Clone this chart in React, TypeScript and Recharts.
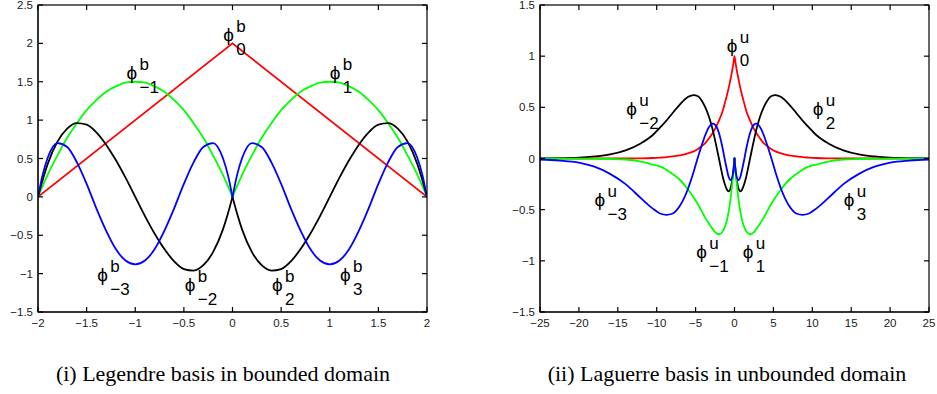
import { LineChart, Line, XAxis, YAxis, ReferenceDot } from 'recharts'

// ---- Legendre basis on the bounded domain [-2, 2] ----
const legXl = [-2, -1.95, -1.9, -1.8, -1.7, -1.6, -1.5, -1.4, -1.3, -1.2, -1.1, -1, -0.9, -0.8, -0.7, -0.6, -0.5, -0.4, -0.3, -0.2, -0.1, -0.05, 0]
const legXr = [0, 0.05, 0.1, 0.2, 0.3, 0.4, 0.5, 0.6, 0.7, 0.8, 0.9, 1, 1.1, 1.2, 1.3, 1.4, 1.5, 1.6, 1.7, 1.8, 1.9, 1.95, 2]
const legHatX = [-2, 0, 2]

const phiB0 = [0, 2, 0]
const phiBm1 = [0, 0.15, 0.29, 0.54, 0.77, 0.96, 1.13, 1.26, 1.37, 1.44, 1.49, 1.5, 1.49, 1.44, 1.37, 1.26, 1.13, 0.96, 0.77, 0.54, 0.29, 0.15, 0]
const phiB1 = [0, 0.15, 0.29, 0.54, 0.77, 0.96, 1.13, 1.26, 1.37, 1.44, 1.49, 1.5, 1.49, 1.44, 1.37, 1.26, 1.13, 0.96, 0.77, 0.54, 0.29, 0.15, 0]
const phiBm2 = [0, 0.23, 0.43, 0.72, 0.89, 0.96, 0.94, 0.84, 0.68, 0.48, 0.25, 0, -0.25, -0.48, -0.68, -0.84, -0.94, -0.96, -0.89, -0.72, -0.43, -0.23, 0]
const phiB2 = [0, -0.23, -0.43, -0.72, -0.89, -0.96, -0.94, -0.84, -0.68, -0.48, -0.25, 0, 0.25, 0.48, 0.68, 0.84, 0.94, 0.96, 0.89, 0.72, 0.43, 0.23, 0]
const phiBm3 = [0, 0.3, 0.51, 0.7, 0.65, 0.45, 0.17, -0.15, -0.44, -0.68, -0.83, -0.88, -0.83, -0.68, -0.44, -0.15, 0.17, 0.45, 0.65, 0.7, 0.51, 0.3, 0]
const phiB3 = [0, 0.3, 0.51, 0.7, 0.65, 0.45, 0.17, -0.15, -0.44, -0.68, -0.83, -0.88, -0.83, -0.68, -0.44, -0.15, 0.17, 0.45, 0.65, 0.7, 0.51, 0.3, 0]

const legTicksX = [-2, -1.5, -1, -0.5, 0, 0.5, 1, 1.5, 2]
const legTicksY = [-1.5, -1, -0.5, 0, 0.5, 1, 1.5, 2, 2.5]

// ---- Laguerre basis on the unbounded domain ----
const lagXl = [-25, -22.5, -20, -18, -16, -14, -12, -10.5, -9.5, -8.75, -8, -7, -6, -5.25, -4.75, -4.25, -3.75, -3.25, -2.8, -2.5, -2, -1.5, -1.25, -1, -0.75, -0.5, -0.25, -0.1, 0]
const lagXr = [0, 0.1, 0.25, 0.5, 0.75, 1, 1.25, 1.5, 2, 2.5, 2.8, 3.25, 3.75, 4.25, 4.75, 5.25, 6, 7, 8, 8.75, 9.5, 10.5, 12, 14, 16, 18, 20, 22.5, 25]

const phiU0l = [0, 0, 0, 0, 0, 0.001, 0.002, 0.005, 0.009, 0.013, 0.02, 0.03, 0.05, 0.07, 0.09, 0.12, 0.15, 0.2, 0.25, 0.29, 0.37, 0.47, 0.54, 0.61, 0.69, 0.78, 0.88, 0.95, 1]
const phiU0r = [1, 0.95, 0.88, 0.78, 0.69, 0.61, 0.54, 0.47, 0.37, 0.29, 0.25, 0.2, 0.15, 0.12, 0.09, 0.07, 0.05, 0.03, 0.02, 0.013, 0.009, 0.005, 0.002, 0.001, 0, 0, 0, 0, 0]
const phiUm1 = [0, 0, -0.001, -0.002, -0.005, -0.01, -0.03, -0.06, -0.08, -0.11, -0.15, -0.21, -0.3, -0.38, -0.44, -0.51, -0.58, -0.64, -0.69, -0.72, -0.74, -0.71, -0.67, -0.61, -0.52, -0.39, -0.22, -0.1, 0]
const phiU1 = [0, -0.1, -0.22, -0.39, -0.52, -0.61, -0.67, -0.71, -0.74, -0.72, -0.69, -0.64, -0.58, -0.51, -0.44, -0.38, -0.3, -0.21, -0.15, -0.11, -0.08, -0.06, -0.03, -0.01, -0.005, -0.002, -0.001, 0, 0]
const phiUm2 = [0.001, 0.003, 0.008, 0.02, 0.04, 0.08, 0.15, 0.23, 0.31, 0.37, 0.44, 0.53, 0.6, 0.62, 0.61, 0.57, 0.5, 0.4, 0.28, 0.18, 0, -0.18, -0.25, -0.3, -0.32, -0.29, -0.19, -0.09, 0]
const phiU2 = [0, -0.09, -0.19, -0.29, -0.32, -0.3, -0.25, -0.18, 0, 0.18, 0.28, 0.4, 0.5, 0.57, 0.61, 0.62, 0.6, 0.53, 0.44, 0.37, 0.31, 0.23, 0.15, 0.08, 0.04, 0.02, 0.008, 0.003, 0.001]
const phiUm3 = [-0.01, -0.02, -0.04, -0.08, -0.15, -0.25, -0.39, -0.49, -0.54, -0.55, -0.54, -0.46, -0.3, -0.13, 0, 0.12, 0.23, 0.31, 0.34, 0.33, 0.25, 0.09, -0.01, -0.1, -0.18, -0.21, -0.17, -0.09, 0]
const phiU3 = [0, -0.09, -0.17, -0.21, -0.18, -0.1, -0.01, 0.09, 0.25, 0.33, 0.34, 0.31, 0.23, 0.12, 0, -0.13, -0.3, -0.46, -0.54, -0.55, -0.54, -0.49, -0.39, -0.25, -0.15, -0.08, -0.04, -0.02, -0.01]

const lagTicksX = [-25, -20, -15, -10, -5, 0, 5, 10, 15, 20, 25]
const lagTicksY = [-1.5, -1, -0.5, 0, 0.5, 1, 1.5]

// curve labels: anchor = left edge / baseline of the phi
const legLabels = [
  { sub: '0', x: -0.095, y: 2.035 },
  { sub: '\u22121', x: -1.09, y: 1.535 },
  { sub: '1', x: 1.0, y: 1.535 },
  { sub: '\u22123', x: -1.39, y: -1.1 },
  { sub: '\u22122', x: -0.49, y: -1.23 },
  { sub: '2', x: 0.405, y: -1.23 },
  { sub: '3', x: 1.106, y: -1.1 },
]
const lagLabels = [
  { sub: '0', x: -0.99, y: 1.04 },
  { sub: '\u22122', x: -13.9, y: 0.425 },
  { sub: '2', x: 10.06, y: 0.425 },
  { sub: '\u22123', x: -17.98, y: -0.467 },
  { sub: '3', x: 14.04, y: -0.467 },
  { sub: '\u22121', x: -4.92, y: -0.97 },
  { sub: '1', x: 1.07, y: -0.97 },
]

const RED = '#ff0000'
const GREEN = '#00ff00'
const BLUE = '#0000ff'
const BLACK = '#000000'

const pts = (xs: number[], ys: number[]) => xs.map((x, i) => ({ x, y: ys[i] }))
const fmt = (v: number) => String(v).replace('-', '\u2212')

const tickFont = { fontFamily: '"Liberation Sans", Arial, sans-serif', fontSize: 11.5, fill: '#1a1a1a' }
const labelFont = '"Liberation Sans", "DejaVu Sans", Arial, sans-serif'
const TICK = 5

// plot rectangles in page pixels (chart margins + axis sizes below produce these)
interface Box { left: number; top: number; right: number; bottom: number; xd: number[]; yd: number[]; xt: number[]; yt: number[] }
const legBox: Box = { left: 38, top: 5, right: 427, bottom: 312, xd: [-2, 2], yd: [-1.5, 2.5], xt: legTicksX, yt: legTicksY }
const lagBox: Box = { left: 540, top: 5, right: 929, bottom: 312, xd: [-25, 25], yd: [-1.5, 1.5], xt: lagTicksX, yt: lagTicksY }

function PhiMark({ cx, cy, sup, sub }: any) {
  return (
    <g fontFamily={labelFont} fill="#000">
      <text x={cx} y={cy} fontSize={19}>{'\u03d5'}</text>
      <text x={cx + 13} y={cy - 9} fontSize={17}>{sup}</text>
      <text x={cx + 13} y={cy + 14} fontSize={17}>{sub}</text>
    </g>
  )
}

// MATLAB-style closed box with inward ticks on all four sides
function BoxFrame({ b }: { b: Box }) {
  const px = (v: number) => b.left + ((v - b.xd[0]) / (b.xd[1] - b.xd[0])) * (b.right - b.left)
  const py = (v: number) => b.bottom - ((v - b.yd[0]) / (b.yd[1] - b.yd[0])) * (b.bottom - b.top)
  return (
    <g stroke="#000" strokeWidth={1.2} fill="none">
      <rect x={b.left} y={b.top} width={b.right - b.left} height={b.bottom - b.top} />
      {b.xt.map((t) => (
        <g key={'x' + t}>
          <line x1={px(t)} x2={px(t)} y1={b.top} y2={b.top + TICK} />
          <line x1={px(t)} x2={px(t)} y1={b.bottom - TICK} y2={b.bottom} />
        </g>
      ))}
      {b.yt.map((t) => (
        <g key={'y' + t}>
          <line x1={b.left} x2={b.left + TICK} y1={py(t)} y2={py(t)} />
          <line x1={b.right - TICK} x2={b.right} y1={py(t)} y2={py(t)} />
        </g>
      ))}
    </g>
  )
}

function axes(xDomain: number[], xTicks: number[], yDomain: number[], yTicks: number[], yWidth: number) {
  const line = { stroke: '#000', strokeWidth: 1 }
  return [
    <XAxis key="xb" type="number" dataKey="x" domain={xDomain} ticks={xTicks} interval={0} allowDataOverflow
      tickLine={false} tickSize={0} tickMargin={7} tickFormatter={fmt} tick={tickFont} axisLine={line} height={28} />,
    <YAxis key="yl" type="number" domain={yDomain} ticks={yTicks} interval={0} allowDataOverflow
      tickLine={false} tickSize={0} tickMargin={5} tickFormatter={fmt} tick={tickFont} axisLine={line} width={yWidth} />,
  ]
}

function curve(key: string, data: { x: number; y: number }[], color: string, kind: 'monotone' | 'linear' = 'monotone') {
  return (
    <Line key={key} data={data} dataKey="y" type={kind} stroke={color} strokeWidth={1.8} strokeLinecap="round"
      dot={false} activeDot={false} isAnimationActive={false} />
  )
}

function labels(list: { sub: string; x: number; y: number }[], sup: string) {
  return list.map((l) => (
    <ReferenceDot key={'l' + l.sub + l.x} x={l.x} y={l.y} r={1} ifOverflow="visible"
      shape={(p: any) => <PhiMark cx={p.cx} cy={p.cy} sup={sup} sub={l.sub} />} />
  ))
}

const caption: React.CSSProperties = {
  position: 'absolute',
  top: 363,
  fontFamily: '"Liberation Serif", "Times New Roman", serif',
  fontSize: 22,
  lineHeight: '22px',
  textAlign: 'center',
  color: '#000',
  whiteSpace: 'nowrap',
}

export default function App() {
  return (
    <div style={{ position: 'absolute', left: 0, top: 0, width: 937, height: 394, background: '#fff', overflow: 'hidden' }}>
      <div style={{ position: 'absolute', left: 0, top: 0 }}>
        <LineChart width={440} height={340} margin={{ top: 5, right: 13, bottom: 0, left: 0 }}>
          {axes(legBox.xd, legTicksX, legBox.yd, legTicksY, 38)}
          {curve('b0', pts(legHatX, phiB0), RED, 'linear')}
          {curve('bm1', pts(legXl, phiBm1), GREEN)}
          {curve('b1', pts(legXr, phiB1), GREEN)}
          {curve('bm2', pts(legXl, phiBm2), BLACK)}
          {curve('b2', pts(legXr, phiB2), BLACK)}
          {curve('bm3', pts(legXl, phiBm3), BLUE)}
          {curve('b3', pts(legXr, phiB3), BLUE)}
          {labels(legLabels, 'b')}
        </LineChart>
      </div>
      <div style={{ position: 'absolute', left: 480, top: 0 }}>
        <LineChart width={457} height={340} margin={{ top: 5, right: 8, bottom: 0, left: 0 }}>
          {axes(lagBox.xd, lagTicksX, lagBox.yd, lagTicksY, 60)}
          {curve('u0', [...pts(lagXl, phiU0l), ...pts(lagXr, phiU0r).slice(1)], RED)}
          {curve('um2', pts(lagXl, phiUm2), BLACK)}
          {curve('u2', pts(lagXr, phiU2), BLACK)}
          {curve('um1', pts(lagXl, phiUm1), GREEN)}
          {curve('u1', pts(lagXr, phiU1), GREEN)}
          {curve('um3', pts(lagXl, phiUm3), BLUE)}
          {curve('u3', pts(lagXr, phiU3), BLUE)}
          {labels(lagLabels, 'u')}
        </LineChart>
      </div>
      <svg width={937} height={394} style={{ position: 'absolute', left: 0, top: 0, pointerEvents: 'none' }}>
        <BoxFrame b={legBox} />
        <BoxFrame b={lagBox} />
      </svg>
      <div style={{ ...caption, left: 23, width: 400 }}>(i) Legendre basis in bounded domain</div>
      <div style={{ ...caption, left: 527, width: 400 }}>(ii) Laguerre basis in unbounded domain</div>
    </div>
  )
}
